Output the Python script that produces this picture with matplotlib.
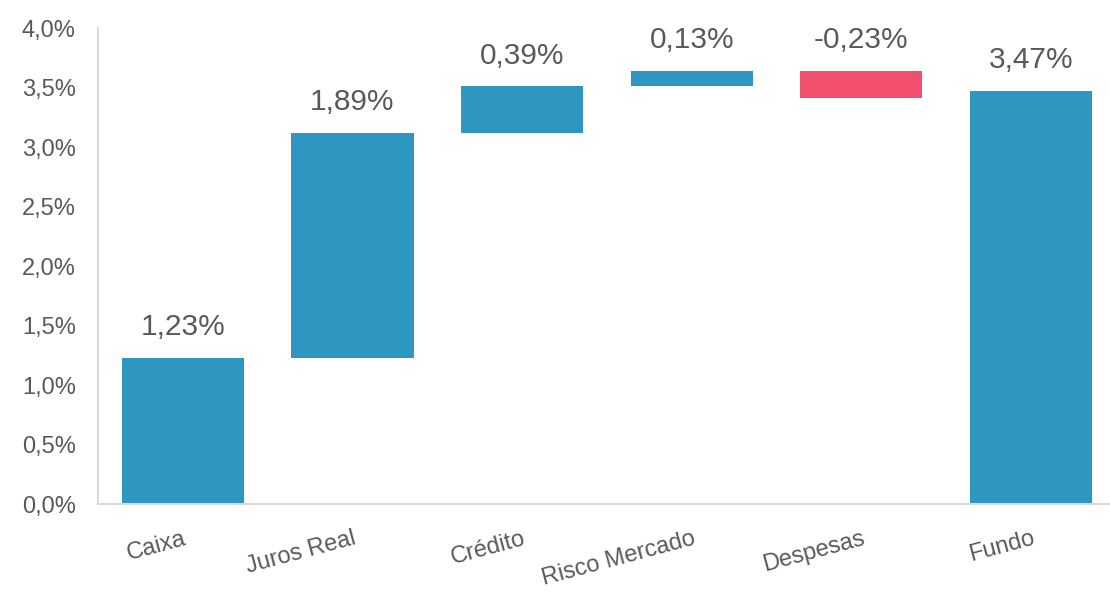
import numpy as np
import matplotlib.pyplot as plt

plt.rcParams['font.family'] = ['Liberation Sans', 'DejaVu Sans']

categories = ["Caixa", "Juros Real", "Crédito", "Risco Mercado", "Despesas", "Fundo"]
steps = [1.23, 1.89, 0.39, 0.13, -0.23]
total = 3.47
labels = ["1,23%", "1,89%", "0,39%", "0,13%", "-0,23%", "3,47%"]

blue = "#2E96C0"
red = "#F0506E"
grey = "#595959"

starts = np.concatenate([[0], np.cumsum(steps)[:-1]])
bottoms = list(np.minimum(starts, starts + steps)) + [0]
heights = list(np.abs(steps)) + [total]
tops = list(np.maximum(starts, starts + steps)) + [total]
colors = [blue if s >= 0 else red for s in steps] + [blue]

fig = plt.figure(figsize=(11.1, 5.92), dpi=100)
ax = fig.add_axes([0.0883, 0.1486, 0.917, 0.8041])

x = np.arange(len(categories))
ax.bar(x, heights, bottom=bottoms, width=0.72, color=colors)

for xi, t, lab in zip(x, tops, labels):
    ax.annotate(lab, (xi, t), xytext=(0, 12), textcoords="offset points",
                ha="center", va="bottom", fontsize=21.5, color=grey)

ax.set_xlim(-0.5, 5.5)
ax.set_ylim(0, 4)
ax.set_yticks(np.arange(0, 4.01, 0.5))
ax.set_yticklabels([f"{v:.1f}%".replace(".", ",") for v in np.arange(0, 4.01, 0.5)])
ax.set_xticks(x)
ax.set_xticklabels(categories, rotation=15, ha="right", rotation_mode="anchor")

ax.tick_params(axis="y", length=0, pad=16, labelsize=17, labelcolor=grey)
ax.tick_params(axis="x", length=0, pad=17, labelsize=17, labelcolor=grey)

for s in ["top", "right"]:
    ax.spines[s].set_visible(False)
for s in ["left", "bottom"]:
    ax.spines[s].set_color("#D9D9D9")
    ax.spines[s].set_linewidth(1.5)

fig.savefig("out.png", dpi=100)
